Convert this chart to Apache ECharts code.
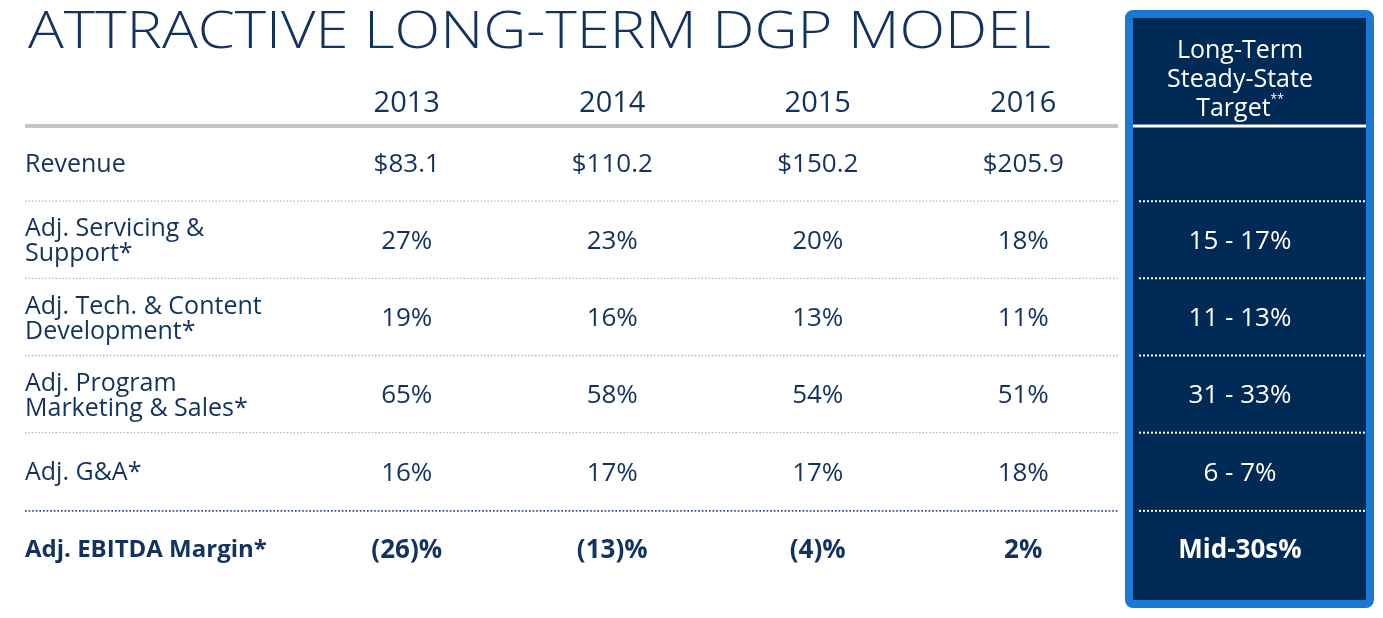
<!DOCTYPE html>
<html>
<head>
<meta charset="utf-8">
<script src="https://cdn.jsdelivr.net/npm/echarts@6/dist/echarts.min.js"></script>
<style>
html,body{margin:0;padding:0;background:#fff;}
#chart{width:1383px;height:618px;}
</style>
</head>
<body>
<div id="chart"></div>
<script>
// ---- data ----
const titleText = 'ATTRACTIVE LONG-TERM DGP MODEL';
const years = ['2013', '2014', '2015', '2016'];
const rowLabels = [
  'Revenue',
  'Adj. Servicing &\nSupport*',
  'Adj. Tech. & Content\nDevelopment*',
  'Adj. Program\nMarketing & Sales*',
  'Adj. G&A*',
  'Adj. EBITDA Margin*'
];
const revenue = [83.1, 110.2, 150.2, 205.9];
const servicing = [27, 23, 20, 18];
const techContent = [19, 16, 13, 11];
const programMarketing = [65, 58, 54, 51];
const gAndA = [16, 17, 17, 18];
const ebitdaMargin = [-26, -13, -4, 2];
const targetHeader = ['Long-Term', 'Steady-State', 'Target'];
const targetValues = ['', '15 - 17%', '11 - 13%', '31 - 33%', '6 - 7%', 'Mid-30s%'];

// ---- build ----
const rows = [revenue, servicing, techContent, programMarketing, gAndA, ebitdaMargin];
const NAVY = '#12325f';
const FONT = '"Open Sans", sans-serif';
const LABEL_MARGIN = 279;

function fmt(r, v) {
  if (r === 0) return '$' + v.toFixed(1);
  if (v < 0) return '(' + Math.abs(v) + ')%';
  return v + '%';
}

const cellData = [];
rows.forEach((arr, r) => {
  arr.forEach((v, c) => {
    cellData.push({
      value: [c, r, v],
      label: { fontWeight: r === rows.length - 1 ? 'bold' : 'normal' }
    });
  });
});

const targetData = [];
targetValues.forEach((t, r) => {
  if (t) targetData.push({
    value: [0, r, t],
    label: { fontWeight: r === targetValues.length - 1 ? 'bold' : 'normal' }
  });
});

const rowIdx = rowLabels.map((_, i) => [0, i]);

const chart = echarts.init(document.getElementById('chart'), null, { renderer: 'canvas' });

const option = {
  backgroundColor: '#ffffff',
  animation: false,
  graphic: [
    {
      type: 'rect',
      z: -10,
      shape: { x: 1129, y: 14, width: 241, height: 590, r: 4 },
      style: { fill: '#002a56', stroke: '#1b78d3', lineWidth: 8 }
    },
    {
      type: 'text',
      x: 28, y: 8, scaleX: 1.17, scaleY: 1, originX: 0, originY: 0,
      style: {
        text: titleText,
        font: '300 51px "Open Sans", sans-serif',
        fill: NAVY,
        verticalAlign: 'top',
        align: 'left'
      }
    }
  ],
  grid: [
    { left: 304, top: 126, width: 822, height: 463 },
    { left: 1140, top: 126, width: 200, height: 463 }
  ],
  xAxis: [
    {
      gridIndex: 0, type: 'category', data: years, position: 'top',
      axisLine: { show: false }, axisTick: { show: false }, splitLine: { show: false },
      axisLabel: { fontFamily: FONT, fontSize: 29, color: NAVY, margin: 8 }
    },
    {
      gridIndex: 1, type: 'category', data: ['target'], position: 'top', z: 10,
      axisLine: { show: false }, axisTick: { show: false }, splitLine: { show: false },
      axisLabel: {
        margin: 3,
        formatter: () => '{a|' + targetHeader[0] + '}\n{a|' + targetHeader[1] + '}\n{a|' + targetHeader[2] + '}{s|**}',
        rich: {
          a: { fontFamily: FONT, fontSize: 25, color: '#ffffff', lineHeight: 29 },
          s: { fontFamily: FONT, fontSize: 12, color: '#ffffff', lineHeight: 29, verticalAlign: 'top', padding: [0, 0, 14, 0] }
        }
      }
    }
  ],
  yAxis: [
    {
      gridIndex: 0, type: 'category', data: rowLabels, inverse: true,
      axisLine: { show: false }, axisTick: { show: false }, splitLine: { show: false },
      axisLabel: {
        align: 'left', margin: LABEL_MARGIN,
        formatter: (v, i) => i === rowLabels.length - 1 ? '{b|' + v + '}' : '{n|' + v.split('\n').join('}\n{n|') + '}',
        rich: {
          n: { fontFamily: FONT, fontSize: 25, color: NAVY, lineHeight: 25 },
          b: { fontFamily: FONT, fontSize: 24, color: NAVY, fontWeight: 'bold', lineHeight: 25 }
        }
      }
    },
    {
      gridIndex: 1, type: 'category', data: rowLabels, inverse: true, show: false
    }
  ],
  series: [
    {
      type: 'custom', xAxisIndex: 0, yAxisIndex: 0, clip: false, silent: true,
      data: rowIdx,
      renderItem: (params, api) => {
        const r = api.value(1);
        const cs = params.coordSys;
        const y = api.coord([0, r])[1] - api.size([0, 1])[1] / 2;
        let style;
        let yy = y;
        if (r === 0) { style = { stroke: '#c4c4c4', lineWidth: 4 }; }
        else if (r === rowLabels.length - 1) { style = { stroke: '#2a4670', lineWidth: 1.6, lineDash: [1.6, 2] }; yy = y - 1; }
        else { style = { stroke: '#b4b4b4', lineWidth: 1.4, lineDash: [1.4, 2] }; yy = y - 2; }
        return { type: 'line', shape: { x1: cs.x - LABEL_MARGIN, y1: yy, x2: cs.x + cs.width - 8, y2: yy }, style };
      }
    },
    {
      type: 'scatter', xAxisIndex: 0, yAxisIndex: 0, symbolSize: 1, silent: true,
      itemStyle: { color: 'rgba(0,0,0,0)', opacity: 1 },
      data: cellData,
      label: {
        show: true, position: 'inside', fontFamily: FONT, fontSize: 26, color: NAVY,
        formatter: p => fmt(p.data.value[1], p.data.value[2])
      }
    },
    {
      type: 'custom', xAxisIndex: 1, yAxisIndex: 1, clip: false, silent: true, z: 5,
      data: rowIdx,
      renderItem: (params, api) => {
        const r = api.value(1);
        const cs = params.coordSys;
        const y = api.coord([0, r])[1] - api.size([0, 1])[1] / 2;
        if (r === 0) {
          return { type: 'line', shape: { x1: cs.x - 7, y1: y, x2: cs.x + cs.width + 26, y2: y }, style: { stroke: '#ffffff', lineWidth: 3 } };
        }
        const yy = r === rowLabels.length - 1 ? y - 1 : y - 2;
        return { type: 'line', shape: { x1: cs.x - 1, y1: yy, x2: cs.x + cs.width + 25, y2: yy }, style: { stroke: '#ffffff', lineWidth: 2, lineDash: [2, 2] } };
      }
    },
    {
      type: 'scatter', xAxisIndex: 1, yAxisIndex: 1, symbolSize: 1, silent: true, z: 6,
      itemStyle: { color: 'rgba(0,0,0,0)', opacity: 1 },
      data: targetData,
      label: {
        show: true, position: 'inside', fontFamily: FONT, fontSize: 26, color: '#ffffff',
        formatter: p => p.data.value[2]
      }
    }
  ]
};
chart.setOption(option);
</script>
</body>
</html>
